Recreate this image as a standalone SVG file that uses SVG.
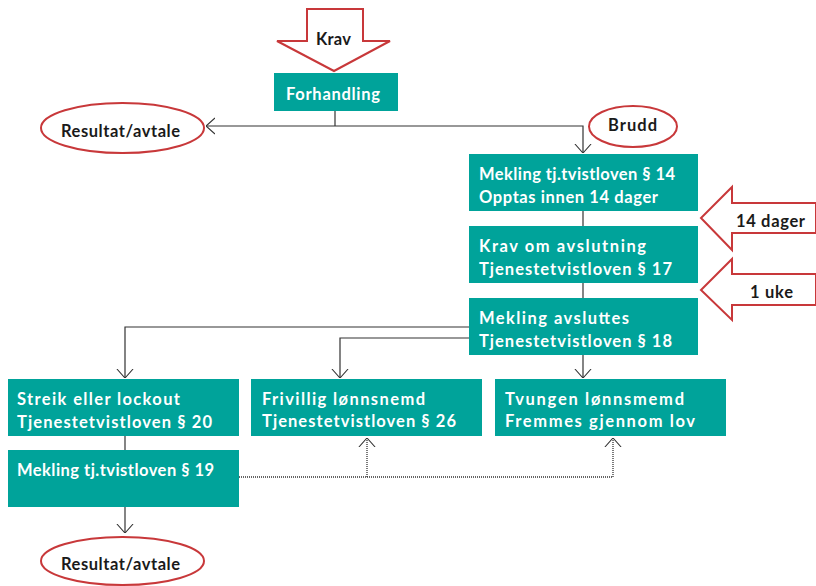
<svg xmlns="http://www.w3.org/2000/svg" width="816" height="586" viewBox="0 0 816 586">
  <defs>
    <style>
      .box { fill: #00A39A; }
      .wt { fill: #ffffff; font-family: Lato, "Open Sans", "Liberation Sans", sans-serif; font-weight: bold; font-size: 16.5px; }
      .bt { fill: #1a1a1a; font-family: Lato, "Open Sans", "Liberation Sans", sans-serif; font-weight: bold; font-size: 16.5px; }
      .red { fill: #ffffff; stroke: #C8383A; stroke-width: 2; }
      .conn { fill: none; stroke: #333333; stroke-width: 1.2; }
      .dot { fill: none; stroke: #333333; stroke-width: 1.3; stroke-dasharray: 1 1; }
    </style>
    <marker id="ah" viewBox="0 0 10 20" refX="10" refY="10" markerWidth="9" markerHeight="18" markerUnits="userSpaceOnUse" orient="auto">
      <path d="M0,1 L10,10 L0,19" fill="none" stroke="#333333" stroke-width="1.2"/>
    </marker>
  </defs>

  <g id="connectors">
    <path class="conn" d="M335,111 V126"/>
    <path class="conn" d="M335,126 H206" marker-end="url(#ah)"/>
    <path class="conn" d="M335,126 H583 V153" marker-end="url(#ah)"/>
    <path class="conn" d="M583,211 V226"/>
    <path class="conn" d="M583,283 V298"/>
    <path class="conn" d="M469,327 H125 V378" marker-end="url(#ah)"/>
    <path class="conn" d="M469,338 H340 V378" marker-end="url(#ah)"/>
    <path class="conn" d="M583,355 V378" marker-end="url(#ah)"/>
    <path class="conn" d="M125,436 V450"/>
    <path class="conn" d="M125,507 V533" marker-end="url(#ah)"/>
    <path class="dot" d="M239,477 H613 V438" marker-end="url(#ah)"/>
    <path class="dot" d="M367,477 V438" marker-end="url(#ah)"/>
  </g>

  <g id="krav">
    <polygon class="red" points="307,9 363,9 363,41 390,41 334,71 277,41 307,41"/>
    <text class="bt" x="316" y="45" textLength="35" lengthAdjust="spacing">Krav</text>
  </g>

  <g id="forhandling">
    <rect class="box" x="274" y="73" width="124" height="38"/>
    <text class="wt" x="286" y="100" textLength="94" lengthAdjust="spacing">Forhandling</text>
  </g>

  <g id="resultat-top">
    <ellipse class="red" cx="122.5" cy="128" rx="81.5" ry="25"/>
    <text class="bt" x="61" y="137" textLength="119" lengthAdjust="spacing">Resultat/avtale</text>
  </g>

  <g id="brudd">
    <ellipse class="red" cx="633" cy="126.5" rx="44" ry="20.5"/>
    <text class="bt" x="608" y="131" textLength="49" lengthAdjust="spacing">Brudd</text>
  </g>

  <g id="mekling14">
    <rect class="box" x="469" y="154" width="229" height="57"/>
    <text class="wt" x="479" y="180" textLength="196" lengthAdjust="spacing">Mekling tj.tvistloven § 14</text>
    <text class="wt" x="479" y="203" textLength="179" lengthAdjust="spacing">Opptas innen 14 dager</text>
  </g>

  <g id="krav-avslutning">
    <rect class="box" x="469" y="226" width="229" height="57"/>
    <text class="wt" x="479" y="252" textLength="167" lengthAdjust="spacing">Krav om avslutning</text>
    <text class="wt" x="479" y="275" textLength="193" lengthAdjust="spacing">Tjenestetvistloven § 17</text>
  </g>

  <g id="mekling-avsluttes">
    <rect class="box" x="469" y="298" width="229" height="57"/>
    <text class="wt" x="479" y="324" textLength="150" lengthAdjust="spacing">Mekling avsluttes</text>
    <text class="wt" x="479" y="347" textLength="193" lengthAdjust="spacing">Tjenestetvistloven § 18</text>
  </g>

  <g id="dager14">
    <polygon class="red" points="816,203 732,203 732,187 701,218 732,250 732,233 816,233"/>
    <text class="bt" x="736" y="227" textLength="69" lengthAdjust="spacing">14 dager</text>
  </g>

  <g id="uke1">
    <polygon class="red" points="816,274 732,274 732,259 701,290 732,320 732,305 816,305"/>
    <text class="bt" x="750" y="298" textLength="43" lengthAdjust="spacing">1 uke</text>
  </g>

  <g id="streik">
    <rect class="box" x="8" y="379" width="231" height="57"/>
    <text class="wt" x="17" y="405" textLength="163" lengthAdjust="spacing">Streik eller lockout</text>
    <text class="wt" x="17" y="428" textLength="195" lengthAdjust="spacing">Tjenestetvistloven § 20</text>
  </g>

  <g id="frivillig">
    <rect class="box" x="251" y="379" width="231" height="57"/>
    <text class="wt" x="262" y="405" textLength="163" lengthAdjust="spacing">Frivillig lønnsnemd</text>
    <text class="wt" x="262" y="427" textLength="194" lengthAdjust="spacing">Tjenestetvistloven § 26</text>
  </g>

  <g id="tvungen">
    <rect class="box" x="495" y="379" width="231" height="57"/>
    <text class="wt" x="505" y="405" textLength="179" lengthAdjust="spacing">Tvungen lønnsmemd</text>
    <text class="wt" x="505" y="427" textLength="190" lengthAdjust="spacing">Fremmes gjennom lov</text>
  </g>

  <g id="mekling19">
    <rect class="box" x="8" y="450" width="231" height="57"/>
    <text class="wt" x="17" y="476" textLength="197" lengthAdjust="spacing">Mekling tj.tvistloven § 19</text>
  </g>

  <g id="resultat-bottom">
    <ellipse class="red" cx="122.5" cy="561" rx="81.5" ry="24"/>
    <text class="bt" x="61" y="570" textLength="119" lengthAdjust="spacing">Resultat/avtale</text>
  </g>
</svg>
